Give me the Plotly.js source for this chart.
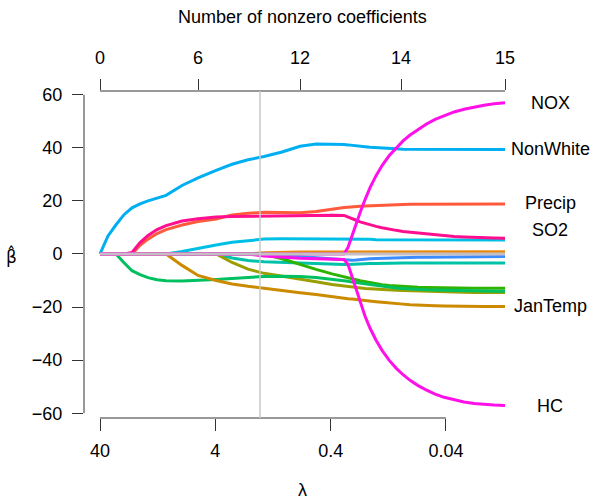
<!DOCTYPE html>
<html><head><meta charset="utf-8">
<script src="https://cdn.plot.ly/plotly-3.0.1.min.js"></script>
<style>html,body{margin:0;padding:0;background:#fff}</style>
</head><body><div id="chart" style="width:592px;height:501px"></div>
<script>
// lambda grid (log scale, decreasing)
const lambda = [40, 36.93, 34.10, 29.06, 24.77, 21.12, 17.99, 15.34, 12.81, 10.70,
  7.78, 5.65, 3.94, 2.865, 2.082, 1.512, 1.056, 0.737, 0.535, 0.389,
  0.306, 0.2826, 0.2609, 0.2408, 0.2224, 0.2012, 0.1821, 0.1615, 0.1433, 0.1246, 0.1083, 0.0942,
  0.0819, 0.0698, 0.0595, 0.0497, 0.0415, 0.0340, 0.0279, 0.0228, 0.0187, 0.0153, 0.0123];

// coefficient paths
const NonWhite = [0, 3.5, 6.8, 11.0, 14.8, 17.4, 18.9, 20.0, 21.2, 22.1,
  25.8, 28.7, 31.5, 33.8, 35.5, 36.7, 38.4, 40.6, 41.4, 41.4,
  41.2, 41.1, 41.0, 40.8, 40.6, 40.4, 40.2, 40.0, 39.8, 39.7, 39.6, 39.5, 39.5, 39.5, 39.5, 39.5, 39.5, 39.4, 39.4, 39.4, 39.4, 39.4, 39.4];
const Precip = [0, 0, 0, 0, 0, 0, 3.3, 5.6, 7.7, 9.2,
  10.9, 12.2, 13.2, 14.7, 15.3, 15.7, 15.6, 15.5, 16.0, 17.0,
  17.5, 17.6, 17.8, 17.9, 18.0, 18.1, 18.2, 18.3, 18.4, 18.5, 18.6, 18.6, 18.7, 18.7, 18.7, 18.8, 18.8, 18.8, 18.8, 18.8, 18.8, 18.8, 18.8];
const SO2 = [0, 0, 0, 0, 0, 0.6, 4.3, 7.0, 9.2, 10.7,
  12.4, 13.3, 13.9, 14.1, 14.2, 14.4, 14.5, 14.6, 14.6, 14.6,
  14.5, 14.0, 13.3, 12.7, 12.1, 11.5, 11.0, 10.4, 9.9, 9.3, 8.9, 8.5, 8.2, 7.9, 7.6, 7.2, 6.9, 6.6, 6.4, 6.2, 6.1, 6.0, 5.9];
const NOX = [0, 0, 0, 0, 0, 0, 0, 0, 0, 0,
  0, 0, 0, 0, 0, 0, 0, 0, 0, 0,
  0, 2.5, 7.0, 11.5, 15.5, 20.5, 25.0, 29.5, 33.3, 37.0, 40.0, 42.6, 44.8, 47.0, 48.9, 50.7, 52.1, 53.5, 54.5, 55.4, 56.0, 56.6, 57.0];
const HC = [0, 0, 0, 0, 0, 0, 0, 0, 0, 0,
  0, 0, 0, 0, 0, -0.8, -1.3, -1.6, -1.8, -2.0,
  -2.1, -4.0, -8.5, -13.5, -18.3, -23.5, -28.0, -32.5, -36.3, -40.0, -43.0, -45.5, -47.6, -49.6, -51.2, -52.8, -54.0, -55.0, -55.8, -56.3, -56.7, -56.9, -57.1];
const JanTemp = [0, 0, 0, 0, 0, 0, 0, 0, 0, 0,
  -4.3, -8.1, -10.0, -11.3, -12.2, -13.0, -13.8, -14.6, -15.3, -16.2,
  -16.7, -16.9, -17.0, -17.2, -17.4, -17.6, -17.8, -18.0, -18.2, -18.5, -18.7, -18.9, -19.1, -19.3, -19.4, -19.5, -19.6, -19.7, -19.7, -19.8, -19.8, -19.8, -19.8];
const Educ = [0, 0, 0, 0, -3.3, -6.3, -7.8, -8.9, -9.7, -10.1,
  -10.2, -10.0, -9.6, -9.2, -8.8, -8.5, -8.4, -8.5, -8.9, -9.5,
  -10.1, -10.3, -10.6, -10.8, -11.1, -11.4, -11.7, -12.0, -12.3, -12.6, -12.8, -13.0, -13.2, -13.4, -13.5, -13.6, -13.7, -13.8, -13.9, -14.0, -14.0, -14.0, -14.0];
const Density = [0, 0, 0, 0, 0, 0, 0, 0, 0, 0,
  0, 0, 0, -3.2, -5.7, -7.3, -8.5, -9.5, -10.5, -11.5,
  -12.1, -12.2, -12.4, -12.6, -12.8, -13.0, -13.1, -13.3, -13.4, -13.6, -13.7, -13.8, -13.9, -14.0, -14.1, -14.2, -14.3, -14.4, -14.4, -14.5, -14.5, -14.5, -14.5];
const JulyTemp = [0, 0, 0, 0, 0, 0, 0, 0, 0, 0,
  0, 0, 0, 0, 0, 0, -1.8, -4.0, -5.8, -7.5,
  -8.5, -8.8, -9.3, -9.7, -10.1, -10.5, -10.9, -11.3, -11.6, -11.9, -12.1, -12.3, -12.4, -12.5, -12.6, -12.7, -12.8, -12.9, -12.9, -12.9, -12.9, -12.9, -12.9];
const House = [0, 0, 0, 0, 0, 0, 0, 0, 0, 0,
  0, 0, 0, -1.5, -2.5, -2.9, -3.2, -3.5, -3.7, -3.9,
  -4.0, -4.0, -3.9, -3.8, -3.7, -3.7, -3.6, -3.6, -3.5, -3.5, -3.5, -3.4, -3.4, -3.4, -3.4, -3.4, -3.4, -3.4, -3.4, -3.4, -3.4, -3.4, -3.4];
const Poor = [0, 0, 0, 0, 0, 0, 0, 0, 0, 0,
  0, 0, 0, 0, 0, 0, -0.5, -1.0, -1.5, -2.0,
  -2.4, -2.4, -2.4, -2.3, -2.1, -2.0, -1.8, -1.7, -1.6, -1.5, -1.4, -1.35, -1.3, -1.25, -1.2, -1.15, -1.1, -1.05, -1.0, -1.0, -1.0, -1.0, -1.0];
const Over65 = [0, 0, 0, 0, 0, 0, 0, 0, 0, 0,
  0, 0, 0, 0, 0, 0.5, 0.7, 0.7, 0.7, 0.7,
  0.7, 0.7, 0.7, 0.7, 0.7, 0.7, 0.7, 0.7, 0.7, 0.7, 0.7, 0.7, 0.7, 0.8, 0.8, 0.8, 0.8, 0.8, 0.8, 0.8, 0.8, 0.8, 0.8];
const WhiteCol = [0, 0, 0, 0, 0, 0, 0, 0, 0, 0,
  0.9, 2.2, 3.4, 4.4, 5.1, 5.6, 5.7, 5.7, 5.7, 5.6,
  5.6, 5.6, 5.5, 5.5, 5.5, 5.5, 5.5, 5.4, 5.4, 5.4, 5.4, 5.4, 5.4, 5.3, 5.3, 5.3, 5.3, 5.3, 5.3, 5.3, 5.3, 5.3, 5.3];
const Humid = [0, 0, 0, 0, 0, 0, 0, 0, 0, 0,
  0, 0, 0, 0, 0, 0, 0, 0, 0, 0,
  0, 0, 0, 0, 0, 0, 0, 0, 0, 0, 0, 0, 0, 0, 0, 0, 0, 0, 0, 0, 0, 0, 0];

// top axis: number of nonzero coefficients
const dfLambda = [40, 5.65, 0.737, 0.098, 0.0123];
const dfLabels = ['0', '6', '12', '14', '15'];
const lambdaTicks = [40, 4, 0.4, 0.04];
const lambdaTickText = ['40', '4', '0.4', '0.04'];
const betaTicks = [-60, -40, -20, 0, 20, 40, 60];
const chosenLambda = 1.64;

const series = [
  {name: 'WhiteCol', y: WhiteCol, color: '#00bfe4'},
  {name: 'Over65', y: Over65, color: '#e88a10'},
  {name: 'Poor', y: Poor, color: '#3b8cff'},
  {name: 'House', y: House, color: '#00c2a8'},
  {name: 'JulyTemp', y: JulyTemp, color: '#2db300'},
  {name: 'Density', y: Density, color: '#9c9e00'},
  {name: 'Educ', y: Educ, color: '#00c060'},
  {name: 'JanTemp', y: JanTemp, color: '#cc8a00'},
  {name: 'Precip', y: Precip, color: '#ff5a3c'},
  {name: 'SO2', y: SO2, color: '#ff0f8f'},
  {name: 'NonWhite', y: NonWhite, color: '#00aff2'},
  {name: 'HC', y: HC, color: '#ff10e8'},
  {name: 'NOX', y: NOX, color: '#ff10e8'},
  {name: 'Humid', y: Humid, color: '#c4bec6'}
];

const labelled = [
  {name: 'NOX', y: NOX, nudge: 0},
  {name: 'NonWhite', y: NonWhite, nudge: 0},
  {name: 'Precip', y: Precip, nudge: 0.4},
  {name: 'SO2', y: SO2, nudge: 3.3},
  {name: 'JanTemp', y: JanTemp, nudge: 0.2},
  {name: 'HC', y: HC, nudge: 0}
];

const traces = series.map(s => ({
  type: 'scatter', mode: 'lines', x: lambda, y: s.y, name: s.name,
  line: {color: s.color, width: 3}, hoverinfo: 'skip'
}));
traces.push({type: 'scatter', mode: 'lines', x: [dfLambda[0], dfLambda[dfLambda.length-1]], y: [0, 0],
  xaxis: 'x2', yaxis: 'y', line: {width: 0}, opacity: 0, hoverinfo: 'skip'});

const xr = [1.7409, -2.0486];
const font = {family: 'Liberation Sans, Arial, sans-serif', size: 18, color: '#000'};
const axCol = '#333';

const annotations = labelled.map(l => ({
  xref: 'paper', yref: 'y', x: 1.0664, y: l.y[l.y.length-1] + l.nudge,
  text: l.name, showarrow: false, xanchor: 'center', yanchor: 'middle', font: font
}));
annotations.push({xref: 'paper', yref: 'paper', x: 0.5, y: 1.2263, text: 'Number of nonzero coefficients',
  showarrow: false, xanchor: 'center', yanchor: 'middle', font: font});
annotations.push({xref: 'paper', yref: 'paper', x: 0.5, y: -0.2202, text: 'λ',
  showarrow: false, xanchor: 'center', yanchor: 'middle', font: font});
annotations.push({xref: 'paper', yref: 'paper', x: -0.1648, y: 0.4950, text: 'β\u0302',
  showarrow: false, xanchor: 'center', yanchor: 'middle', font: {family: 'DejaVu Sans', size: 17, color: '#000'}});

const layout = {
  width: 592, height: 501,
  margin: {l: 84, r: 71, t: 91, b: 83, pad: 0},
  paper_bgcolor: '#fff', plot_bgcolor: '#fff',
  font: font, showlegend: false,
  xaxis: {type: 'log', range: xr, tickvals: lambdaTicks, ticktext: lambdaTickText,
    ticks: 'outside', ticklen: 12, tickwidth: 1, tickcolor: axCol, showline: false,
    showgrid: false, zeroline: false, ticklabelstandoff: 4, tickfont: font},
  xaxis2: {type: 'log', range: xr, overlaying: 'x', side: 'top', anchor: 'y',
    tickvals: dfLambda, ticktext: dfLabels, ticks: 'outside', ticklen: 11, tickwidth: 1,
    tickcolor: axCol, showline: false, showgrid: false, zeroline: false, ticklabelstandoff: 8, tickfont: font},
  yaxis: {range: [-61.8, 61.4], tickvals: betaTicks, ticks: 'outside', ticklen: 11, tickwidth: 1,
    tickcolor: axCol, showline: false, showgrid: false, zeroline: false, ticklabelstandoff: 6, tickfont: font},
  shapes: [
    {type: 'line', xref: 'x', yref: 'paper', x0: lambdaTicks[0], x1: lambdaTicks[lambdaTicks.length-1], y0: 0, y1: 0, line: {color: axCol, width: 1}},
    {type: 'line', xref: 'x', yref: 'paper', x0: dfLambda[0], x1: dfLambda[dfLambda.length-1], y0: 1, y1: 1, line: {color: axCol, width: 1}},
    {type: 'line', xref: 'paper', yref: 'y', x0: 0, x1: 0, y0: betaTicks[0], y1: betaTicks[betaTicks.length-1], line: {color: axCol, width: 1}},
    {type: 'line', xref: 'x', yref: 'paper', x0: chosenLambda, x1: chosenLambda, y0: 0, y1: 1, line: {color: '#c8c8c8', width: 1.5}}
  ],
  annotations: annotations
};

Plotly.newPlot('chart', traces, layout, {staticPlot: true, displayModeBar: false});
</script></body></html>
